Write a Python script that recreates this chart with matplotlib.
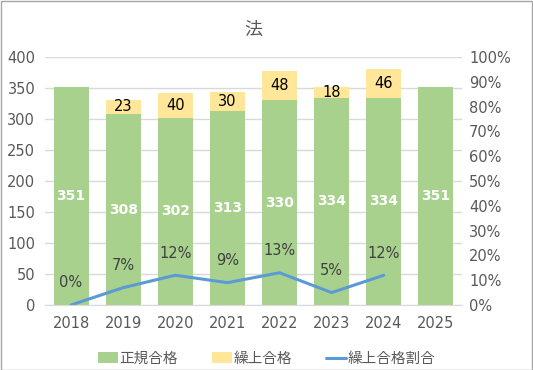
import matplotlib.pyplot as plt
import numpy as np

plt.rcParams['font.family'] = ['DejaVu Sans', 'Noto Sans CJK JP']

years = ["2018", "2019", "2020", "2021", "2022", "2023", "2024", "2025"]
seiki = [351, 308, 302, 313, 330, 334, 334, 351]
kuriage = [0, 23, 40, 30, 48, 18, 46, 0]
ratio = [0, 7, 12, 9, 13, 5, 12]  # percent, no value for 2025

green = "#A9D18E"
yellow = "#FFE699"
blue = "#5B9BD5"
grey = "#595959"

fig = plt.figure(figsize=(5.33, 3.7), dpi=100)
ax = fig.add_axes([0.0844, 0.1757, 0.7824, 0.6703])
ax2 = ax.twinx()

x = np.arange(len(years))
ax.bar(x, seiki, width=0.67, color=green, label="正規合格", zorder=2)
ax.bar(x, kuriage, width=0.67, bottom=seiki, color=yellow, label="繰上合格", zorder=2)

for i in range(len(years)):
    ax.text(x[i], seiki[i] / 2, str(seiki[i]), ha="center", va="center",
            color="white", fontsize=10, fontweight="bold", zorder=3)
    if kuriage[i] > 0:
        ax.text(x[i], seiki[i] + kuriage[i] / 2, str(kuriage[i]), ha="center", va="center",
                color="black", fontsize=10.5, zorder=3)

xr = x[:len(ratio)]
ax2.plot(xr, ratio, color=blue, linewidth=2.2, label="繰上合格割合", solid_capstyle="round")
for i in range(len(ratio)):
    ax2.annotate(f"{ratio[i]}%", (xr[i], ratio[i]), xytext=(0, 16), textcoords="offset points",
                 ha="center", va="center", color="#404040", fontsize=10.5)

ax.set_ylim(0, 400)
ax.set_yticks(range(0, 401, 50))
ax2.set_ylim(0, 100)
ax2.set_yticks(range(0, 101, 10))
ax2.set_yticklabels([f"{v}%" for v in range(0, 101, 10)])
ax.set_xlim(-0.5, len(years) - 0.5)
ax.set_xticks(x)
ax.set_xticklabels(years)

ax.grid(axis="y", color="#D9D9D9", linewidth=1, zorder=0)
ax.set_axisbelow(True)
for a in (ax, ax2):
    for s in a.spines.values():
        s.set_visible(False)
    a.tick_params(length=0, colors=grey, labelsize=10.5)
ax.spines["bottom"].set_visible(True)
ax.spines["bottom"].set_color("#D9D9D9")
ax.tick_params(axis="x", pad=8)
ax.tick_params(axis="y", pad=7)
ax2.tick_params(axis="y", pad=5)

ax.set_title("法", color=grey, fontsize=13, pad=16)

h1, l1 = ax.get_legend_handles_labels()
h2, l2 = ax2.get_legend_handles_labels()
fig.legend(h1 + h2, l1 + l2, loc="center", bbox_to_anchor=(0.5, 0.032), ncol=3,
           frameon=False, fontsize=10.5, labelcolor=grey, handlelength=1.4,
           handleheight=0.7, columnspacing=2.3, handletextpad=0.1)

fig.patches.append(plt.Rectangle((0.001, 0.001), 0.997, 0.997, transform=fig.transFigure,
                                 fill=False, edgecolor="#A6A6A6", linewidth=1))

fig.savefig("out.png", dpi=100)
